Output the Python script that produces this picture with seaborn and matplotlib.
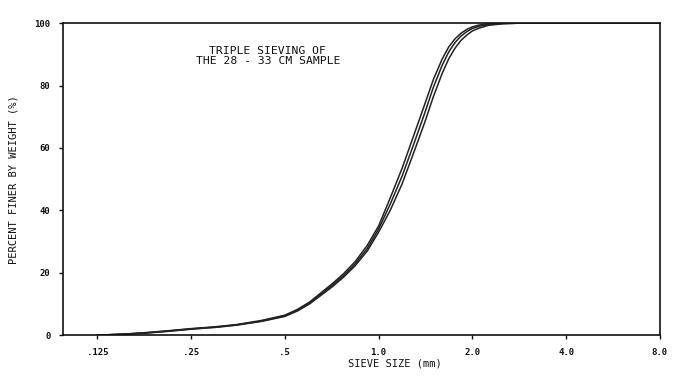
import numpy as np
import pandas as pd
import matplotlib
matplotlib.use("Agg")
import matplotlib.pyplot as plt
import seaborn as sns

# sieve openings (mm) and cumulative percent finer for the three sievings
sizes = [0.125, 0.15, 0.177, 0.21, 0.25, 0.3, 0.35, 0.42, 0.5, 0.55, 0.6,
         0.65, 0.71, 0.77, 0.84, 0.92, 1.0, 1.09, 1.19, 1.3, 1.41, 1.5,
         1.6, 1.68, 1.76, 1.84, 1.92, 2.0, 2.1, 2.25, 2.5, 2.83, 4.0,
         5.66, 8.0]
run_1 = [0.0, 0.3, 0.8, 1.4, 2.1, 2.7, 3.4, 4.7, 6.4, 8.3, 10.6,
         13.4, 16.5, 19.6, 23.5, 28.8, 35.0, 44.0, 53.5, 64.3, 74.3, 82.0,
         88.5, 92.4, 95.0, 96.8, 98.0, 98.8, 99.4, 99.8, 100.0, 100.0, 100.0,
         100.0, 100.0]
run_2 = [0.0, 0.3, 0.7, 1.3, 2.0, 2.6, 3.3, 4.5, 6.2, 8.0, 10.3,
         13.0, 16.0, 19.0, 22.8, 27.8, 34.0, 42.0, 51.0, 61.5, 71.5, 79.5,
         86.5, 90.8, 93.8, 95.9, 97.3, 98.3, 99.0, 99.6, 99.9, 100.0, 100.0,
         100.0, 100.0]
run_3 = [0.0, 0.3, 0.6, 1.2, 1.9, 2.5, 3.2, 4.4, 6.0, 7.8, 10.0,
         12.6, 15.5, 18.5, 22.2, 27.0, 33.0, 40.0, 48.5, 58.8, 68.5, 76.5,
         83.9, 88.6, 92.0, 94.5, 96.2, 97.5, 98.4, 99.3, 99.8, 100.0, 100.0,
         100.0, 100.0]

x_ticks = [0.125, 0.25, 0.5, 1.0, 2.0, 4.0, 8.0]
x_labels = [".125", ".25", ".5", "1.0", "2.0", "4.0", "8.0"]
y_ticks = [0, 20, 40, 60, 80, 100]

df = pd.concat([
    pd.DataFrame({"size": sizes, "finer": run_1, "run": "1"}),
    pd.DataFrame({"size": sizes, "finer": run_2, "run": "2"}),
    pd.DataFrame({"size": sizes, "finer": run_3, "run": "3"}),
])

sns.set_style("ticks")
plt.rcParams["font.family"] = ["DejaVu Sans Mono"]

fig = plt.figure(figsize=(6.74, 3.80), dpi=100)
ax = fig.add_axes([0.0935, 0.118, 0.8855, 0.821])

sns.lineplot(data=df, x="size", y="finer", hue="run",
             palette=["#222222", "#222222", "#222222"],
             linewidth=1.1, legend=False, ax=ax, sort=False)

ax.set_xscale("log", base=2)
ax.set_xlim(0.097, 8.0)
ax.set_ylim(0, 100)
ax.set_xticks(x_ticks)
ax.set_xticklabels(x_labels)
ax.minorticks_off()
ax.set_yticks(y_ticks)
ax.tick_params(axis="both", direction="out", length=3, width=1,
               labelsize=6.5, colors="#111111", pad=6)
for lab in ax.get_xticklabels() + ax.get_yticklabels():
    lab.set_fontweight("bold")

for side in ["left", "right", "top", "bottom"]:
    ax.spines[side].set_visible(True)
    ax.spines[side].set_linewidth(1.2)
    ax.spines[side].set_color("#111111")

ax.set_xlabel("SIEVE SIZE (mm)", fontsize=7.5, color="#111111")
ax.set_ylabel("PERCENT FINER BY WEIGHT (%)", fontsize=7.5, color="#111111")
ax.xaxis.set_label_coords(0.556, -0.075)
ax.yaxis.set_label_coords(-0.075, 0.5)

ax.text(0.441, 89.5, "TRIPLE SIEVING OF\nTHE 28 - 33 CM SAMPLE",
        ha="center", va="center", fontsize=8.2, color="#111111",
        linespacing=1.0)

fig.savefig("out.png", dpi=100, facecolor="white")
